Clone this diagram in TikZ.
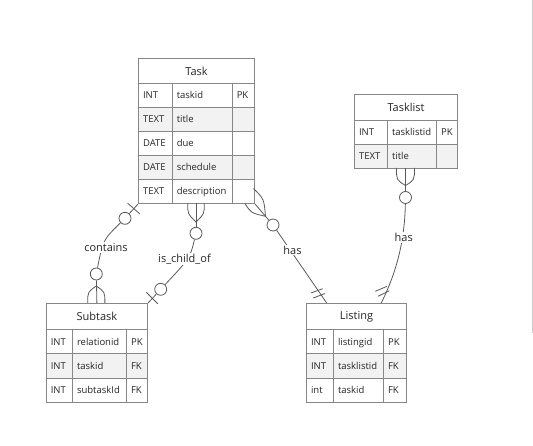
\documentclass[tikz,border=0pt]{standalone}
\usepackage{fontspec}
\setmainfont{Open Sans}
\usetikzlibrary{calc}
\definecolor{tabc}{RGB}{135,135,135}
\definecolor{rowg}{RGB}{242,242,242}
\definecolor{txtc}{RGB}{38,38,38}
\definecolor{linc}{RGB}{90,90,90}
\definecolor{edgec}{RGB}{204,204,204}
\tikzset{
  cell/.style={draw=tabc, line width=1.1pt, anchor=north west, inner xsep=4.5pt, inner ysep=0pt,
    align=left, text=txtc, font=\fontsize{9.5}{11}\selectfont, text height=8pt, text depth=1.2pt,
    execute at begin node={\hyphenpenalty=10000\exhyphenpenalty=10000}},
  hdr/.style={draw=tabc, line width=1.1pt, anchor=north west, inner sep=0pt, text=txtc,
    font=\fontsize{11}{13}\selectfont, fill=white},
  conn/.style={draw=linc, line width=0.8pt},
  ercirc/.style={circle, draw=linc, line width=0.8pt, fill=white, minimum size=12pt, inner sep=0pt},
  rel/.style={fill=white, text=txtc, font=\fontsize{11}{13}\selectfont, inner sep=1pt},
}
\begin{document}
\begin{tikzpicture}[x=1pt,y=-1pt]
\fill[white] (0,0) rectangle (533,446);
\useasboundingbox (0,0) rectangle (533,446);
\draw[edgec, line width=0.8pt] (532.3,0) -- (532.3,333);

% Task
\node[hdr, minimum width=116pt, minimum height=25pt] (task) at (138,58) {Task};
\foreach \i/\ty/\nm/\ky/\fc in {1/INT/taskid/PK/white,2/TEXT/title//rowg,3/DATE/due//white,4/DATE/schedule//rowg,5/TEXT/description//white}{
  \node[cell, fill=\fc, text width=24.7pt, minimum height=24pt] (task-\i-a) at (138,{83+24*(\i-1)}) {\ty};
  \node[cell, fill=\fc, text width=51pt, minimum height=24pt] (task-\i-b) at (171.7,{83+24*(\i-1)}) {\nm};
  \node[cell, fill=\fc, text width=13.3pt, minimum height=24pt] (task-\i-c) at (231.7,{83+24*(\i-1)}) {\ky};
}

% Tasklist
\node[hdr, minimum width=103pt, minimum height=26pt] (tasklist) at (354,94) {Tasklist};
\foreach \i/\ty/\nm/\ky/\fc in {1/INT/tasklistid/PK/white,2/TEXT/title//rowg}{
  \node[cell, fill=\fc, text width=24pt, minimum height=24pt] (tl-\i-a) at (354,{120+24*(\i-1)}) {\ty};
  \node[cell, fill=\fc, text width=40pt, minimum height=24pt] (tl-\i-b) at (387,{120+24*(\i-1)}) {\nm};
  \node[cell, fill=\fc, text width=12pt, minimum height=24pt] (tl-\i-c) at (436,{120+24*(\i-1)}) {\ky};
}

% Subtask
\node[hdr, minimum width=101.3pt, minimum height=26pt] (subtask) at (45.7,303) {Subtask};
\foreach \i/\ty/\nm/\ky/\fc in {1/INT/relationid/PK/white,2/INT/taskid/FK/rowg,3/INT/subtaskId/FK/white}{
  \node[cell, fill=\fc, text width=17.3pt, minimum height=24.3pt] (st-\i-a) at (45.7,{329+24.3*(\i-1)}) {\ty};
  \node[cell, fill=\fc, text width=45pt, minimum height=24.3pt] (st-\i-b) at (72,{329+24.3*(\i-1)}) {\nm};
  \node[cell, fill=\fc, text width=12pt, minimum height=24.3pt] (st-\i-c) at (126,{329+24.3*(\i-1)}) {\ky};
}

% Listing
\node[hdr, minimum width=100pt, minimum height=26pt] (listing) at (306,303) {Listing};
\foreach \i/\ty/\nm/\ky/\fc in {1/INT/listingid/PK/white,2/INT/tasklistid/FK/rowg,3/int/taskid/FK/white}{
  \node[cell, fill=\fc, text width=18pt, minimum height=24.3pt] (ls-\i-a) at (306,{329+24.3*(\i-1)}) {\ty};
  \node[cell, fill=\fc, text width=41pt, minimum height=24.3pt] (ls-\i-b) at (333,{329+24.3*(\i-1)}) {\nm};
  \node[cell, fill=\fc, text width=14pt, minimum height=24.3pt] (ls-\i-c) at (383,{329+24.3*(\i-1)}) {\ky};
}

% connector end points
\coordinate (tbot) at (196,203);
\coordinate (tlbot) at (405.5,168);
\coordinate (lin1) at (326.7,303);
\coordinate (lin2) at (381.3,303);

% circles
\node[ercirc] (c1) at (125,218.3) {};
\node[ercirc] (c2) at (96.3,274) {};
\node[ercirc] (c3) at (196,233.3) {};
\node[ercirc] (c4) at (160.7,289.3) {};
\node[ercirc] (c5) at (273,225) {};
\node[ercirc] (c6) at (405.5,197.5) {};

% contains
\draw[conn] (task-5-a.south west) -- (c1);
\draw[conn] (c1) .. controls (103,240) .. (c2);
\draw[conn] (c2) -- (subtask.north);
\draw[conn] (87.7,303) .. controls (87.7,292) .. (96.3,286) .. controls (104.9,292) .. (104.9,303);
\draw[conn] (127.7,203.2) -- (139.7,213.8);

% is_child_of
\draw[conn] (187.7,203) .. controls (187.7,214) .. (196,222) .. controls (204.3,214) .. (204.3,203);
\draw[conn] (tbot) -- (c3);
\draw[conn] (c3) .. controls (190,258) .. (c4);
\draw[conn] (c4) -- (subtask.north east);
\draw[conn] (146.3,292.3) -- (157.8,303.8);

% has (Task - Listing)
\draw[conn] (task-5-c.south east) -- (c5);
\draw[conn] (253.5,188.5) .. controls (264,199) .. (265.5,216.3) .. controls (251,213) .. (245,203.5);
\draw[conn] (c5) -- (lin1);
\draw[conn] (311,293) -- (322.7,288.7);
\draw[conn] (313.3,298) -- (325,293.5);

% has (Tasklist - Listing)
\draw[conn] (396.5,168) .. controls (396.5,180) .. (405.5,185.5) .. controls (414.5,180) .. (414.5,168);
\draw[conn] (tlbot) -- (c6);
\draw[conn] (c6) .. controls (404.5,245) and (395,275) .. (lin2);
\draw[conn] (375.3,291.3) -- (387,286.3);
\draw[conn] (378,296.3) -- (389.3,290.7);

% labels
\node[rel] (lcont) at (106,247.5) {contains};
\node[rel] (lchild) at (184.5,259) {is\_child\_of};
\node[rel] (lhas1) at (292.5,250) {has};
\node[rel] (lhas2) at (403.7,237.5) {has};
\end{tikzpicture}
\end{document}
